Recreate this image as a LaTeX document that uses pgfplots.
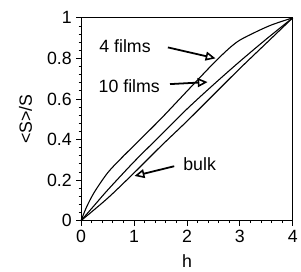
\documentclass[border=0pt]{standalone}
\usepackage{fontspec}
\setmainfont{Liberation Sans}
\usepackage{pgfplots}
\pgfplotsset{compat=1.18}
\usetikzlibrary{arrows.meta}
\begin{document}
\begin{tikzpicture}
\begin{axis}[
  scale only axis, width=214bp, height=205bp,
  xmin=0, xmax=4, ymin=0, ymax=1,
  xtick={0,1,2,3,4}, ytick={0,0.2,0.4,0.6,0.8,1},
  minor x tick num=4, minor y tick num=4,
  tick align=outside, tick pos=left,
  major tick length=5bp, minor tick length=2.5bp,
  axis line style={line width=1pt}, tick style={line width=0.8pt,black},
  /pgf/number format/assume math mode=true,
  yticklabel style={/pgf/number format/fixed, xshift=-1bp},
  xticklabel style={yshift=-1bp},
  ticklabel style={font=\fontsize{18}{20}\selectfont},
  label style={font=\fontsize{18}{20}\selectfont},
  xlabel={h}, ylabel={<S>/S},
  xlabel style={at={(axis description cs:0.5,-0.2)}, anchor=center},
  ylabel style={at={(axis description cs:-0.262,0.5)}, anchor=center},
  clip=false,
]
\addplot[black, line width=1.1pt, smooth, tension=0.5] coordinates {
(0,0) (0.1,0.065) (0.25,0.14) (0.5,0.235) (0.75,0.305) (1,0.37) (1.5,0.5) (2,0.638) (2.5,0.775) (2.8,0.85) (3,0.89) (3.3,0.93) (3.6,0.965) (4,1)};
\addplot[black, line width=1.1pt, smooth, tension=0.5] coordinates {
(0,0) (0.25,0.075) (0.5,0.15) (1,0.29) (1.5,0.42) (2,0.55) (2.5,0.67) (3,0.785) (3.5,0.895) (4,1)};
\addplot[black, line width=1.1pt, smooth, tension=0.5] coordinates {
(0,0) (0.5,0.11) (1,0.235) (1.5,0.365) (2,0.49) (2.5,0.62) (3,0.75) (3.5,0.875) (4,1)};
\node[font=\fontsize{18}{20}\selectfont] at (axis cs:0.83,0.86) {4 films};
\node[font=\fontsize{18}{20}\selectfont] at (axis cs:0.91,0.663) {10 films};
\node[font=\fontsize{18}{20}\selectfont] at (axis cs:2.24,0.278) {bulk};
\draw[line width=1.8pt, -{Triangle[open,length=10bp,width=9bp,line width=1.6pt]}] (axis cs:1.64,0.854) -- (axis cs:2.54,0.80);
\draw[line width=1.8pt, -{Triangle[open,length=10bp,width=9bp,line width=1.6pt]}] (axis cs:1.68,0.673) -- (axis cs:2.39,0.683);
\draw[line width=1.8pt, -{Triangle[open,length=10bp,width=9bp,line width=1.6pt]}] (axis cs:1.76,0.268) -- (axis cs:1.01,0.22);
\end{axis}
\path (current axis.south west) ++(-82bp,-51bp);
\path (current axis.north east) ++(5bp,18bp);
\end{tikzpicture}
\end{document}
